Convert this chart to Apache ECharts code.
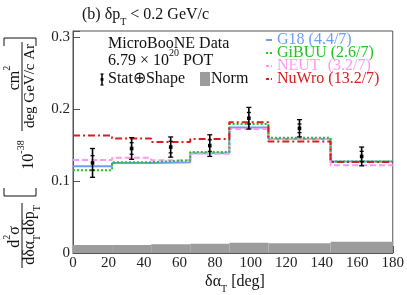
<!DOCTYPE html>
<html>
<head>
<meta charset="utf-8">
<script src="https://cdn.jsdelivr.net/npm/echarts@6/dist/echarts.min.js"></script>
<style>html,body{margin:0;padding:0;background:#fff}#c{width:407px;height:295px}</style>
</head>
<body>
<div id="c"></div>
<script>
const binEdges = [0, 22, 44, 66, 88, 110, 145, 180];
const dataValues = [0.125, 0.145, 0.147, 0.149, 0.187, 0.173, 0.134];
const dataErrors = [0.020, 0.015, 0.014, 0.015, 0.015, 0.012, 0.013];
const statErrors = [0.010, 0.008, 0.008, 0.008, 0.008, 0.006, 0.007];
const g18 = [0.1204, 0.125, 0.126, 0.1384, 0.174, 0.158, 0.1268];
const gibuu = [0.1148, 0.126, 0.1287, 0.140, 0.179, 0.160, 0.127];
const neut = [0.129, 0.132, 0.1287, 0.138, 0.172, 0.158, 0.1218];
const nuwro = [0.163, 0.159, 0.154, 0.158, 0.1815, 0.1546, 0.1264];
const normUnc = [0.0110, 0.0112, 0.0120, 0.0130, 0.0143, 0.0134, 0.0157];
const xTicks = [0, 20, 40, 60, 80, 100, 120, 140, 160, 180];
const yTicks = [0, 0.1, 0.2, 0.3];
const legendNames = ['G18 (4.4/7)', 'GiBUU (2.6/7)', 'NEUT  (3.2/7)', 'NuWro (13.2/7)'];

const C_G18 = '#6e9cf7', C_GIBUU = '#22c322', C_NEUT = '#ff99f0', C_NUWRO = '#d81e1e';
const FONT = 'Liberation Serif';

function steps(vals) {
  const pts = [];
  vals.forEach((v, i) => { pts.push([binEdges[i], v]); pts.push([binEdges[i + 1], v]); });
  return pts;
}
const centers = dataValues.map((v, i) => (binEdges[i] + binEdges[i + 1]) / 2);

const chart = echarts.init(document.getElementById('c'));
function lineSeries(name, vals, color, type) {
  return { name, type: 'line', data: steps(vals), symbol: 'none', animation: false,
    lineStyle: { color, width: 2, type }, z: 3 };
}
const txt = (o) => Object.assign({ type: 'text', silent: true }, o);

const sub = { fontSize: 10, verticalAlign: 'bottom', padding: [0, 0, -4, 0], fontFamily: FONT };
const sup = { fontSize: 10, verticalAlign: 'top', padding: [-5, 0, 0, 0], fontFamily: FONT };

const legendY = [40, 53, 66, 79];
const legendColors = [C_G18, C_GIBUU, C_NEUT, C_NUWRO];
const legendGraphics = [];
legendNames.forEach((n, i) => {
  legendGraphics.push({ type: 'line', silent: true, shape: { x1: 266, y1: legendY[i], x2: 272, y2: legendY[i] },
    style: { stroke: legendColors[i], lineWidth: 2, lineDash: i === 0 ? null : (i === 1 ? [2, 2] : [3, 2]) } });
  legendGraphics.push(txt({ x: 277, y: legendY[i], style: { text: n, fill: legendColors[i], font: '16px ' + FONT, textVerticalAlign: 'middle' } }));
});

const option = {
  animation: false,
  grid: { left: 73, right: 13, top: 31, bottom: 42, show: true, borderColor: '#555', borderWidth: 1, backgroundColor: 'transparent' },
  xAxis: { type: 'value', min: 0, max: 180, interval: 20,
    axisLine: { lineStyle: { color: '#555' } },
    axisTick: { inside: true, length: 7, lineStyle: { color: '#555' } },
    axisLabel: { fontFamily: FONT, fontSize: 15, color: '#222', margin: 3 },
    splitLine: { show: false } },
  yAxis: { type: 'value', min: 0, max: 0.308, interval: 0.1,
    axisLine: { show: true, lineStyle: { color: '#555' } },
    axisTick: { show: true, inside: true, length: 7, lineStyle: { color: '#555' } },
    axisLabel: { fontFamily: FONT, fontSize: 15, color: '#222', margin: 3,
      formatter: v => { const t = yTicks.find(y => Math.abs(y - v) < 1e-6); return t === undefined ? '' : (t === 0 ? '0' : t.toFixed(1)); } },
    splitLine: { show: false } },
  series: [
    { type: 'custom', animation: false, z: 1, data: normUnc.map((v, i) => [binEdges[i], binEdges[i + 1], v]),
      renderItem: (params, api) => {
        const p0 = api.coord([api.value(0), 0]);
        const p1 = api.coord([api.value(1), api.value(2)]);
        return { type: 'rect', shape: { x: p0[0], y: p1[1], width: p1[0] - p0[0], height: p0[1] - p1[1] },
          style: { fill: '#9c9c9c' } };
      } },
    lineSeries('G18', g18, C_G18, 'solid'),
    lineSeries('NEUT', neut, C_NEUT, [6, 3]),
    lineSeries('GiBUU', gibuu, C_GIBUU, [2, 2]),
    lineSeries('NuWro', nuwro, C_NUWRO, [7, 3, 2, 3]),
    { type: 'custom', animation: false, z: 5,
      data: dataValues.map((v, i) => [centers[i], v, dataErrors[i], statErrors[i]]),
      renderItem: (params, api) => {
        const x = api.value(0), v = api.value(1), e = api.value(2), s = api.value(3);
        const c = api.coord([x, v]);
        const top = api.coord([x, v + e])[1], bot = api.coord([x, v - e])[1];
        const st = api.coord([x, v + s])[1], sb = api.coord([x, v - s])[1];
        const st2 = { stroke: '#000', lineWidth: 1.3 };
        return { type: 'group', children: [
          { type: 'line', shape: { x1: c[0], y1: top, x2: c[0], y2: bot }, style: { stroke: '#000', lineWidth: 1.6 } },
          { type: 'line', shape: { x1: c[0] - 2.5, y1: top, x2: c[0] + 2.5, y2: top }, style: st2 },
          { type: 'line', shape: { x1: c[0] - 2.5, y1: bot, x2: c[0] + 2.5, y2: bot }, style: st2 },
          { type: 'line', shape: { x1: c[0] - 2, y1: st, x2: c[0] + 2, y2: st }, style: st2 },
          { type: 'line', shape: { x1: c[0] - 2, y1: sb, x2: c[0] + 2, y2: sb }, style: st2 },
          { type: 'rect', shape: { x: c[0] - 1.8, y: c[1] - 1.8, width: 3.6, height: 3.6 }, style: { fill: '#000' } }
        ] };
      } }
  ],
  graphic: [
    txt({ x: 82, y: 15, style: { text: '(b) δp{s|T} < 0.2 GeV/c', font: '16px ' + FONT, fill: '#111', textVerticalAlign: 'middle',
      rich: { s: sub } } }),
    txt({ x: 108, y: 44, style: { text: 'MicroBooNE Data', font: '16px ' + FONT, fill: '#111', textVerticalAlign: 'middle' } }),
    txt({ x: 108, y: 61, style: { text: '6.79 × 10{p|20} POT', font: '16px ' + FONT, fill: '#111', textVerticalAlign: 'middle', rich: { p: sup } } }),
    { type: 'line', silent: true, shape: { x1: 102, y1: 74, x2: 102, y2: 85 }, style: { stroke: '#000', lineWidth: 1.5 } },
    { type: 'line', silent: true, shape: { x1: 100.5, y1: 74, x2: 103.5, y2: 74 }, style: { stroke: '#000', lineWidth: 1.2 } },
    { type: 'line', silent: true, shape: { x1: 100.5, y1: 85, x2: 103.5, y2: 85 }, style: { stroke: '#000', lineWidth: 1.2 } },
    { type: 'rect', silent: true, shape: { x: 100.6, y: 78, width: 2.8, height: 2.8 }, style: { fill: '#000' } },
    txt({ x: 108, y: 79, style: { text: 'Stat⊕Shape', font: '16px ' + FONT, fill: '#111', textVerticalAlign: 'middle' } }),
    { type: 'rect', silent: true, shape: { x: 200, y: 72, width: 10, height: 14 }, style: { fill: '#9c9c9c' } },
    txt({ x: 211, y: 79, style: { text: 'Norm', font: '16px ' + FONT, fill: '#111', textVerticalAlign: 'middle' } }),
    ...legendGraphics,
    txt({ x: 235, y: 282, style: { text: 'δα{s|T} [deg]', font: '16px ' + FONT, fill: '#111', textAlign: 'center', textVerticalAlign: 'middle', rich: { s: sub } } }),
    // y-axis title (rotated)
    txt({ x: 15, y: 237, rotation: Math.PI / 2, style: { text: 'd{p|2}σ', font: '16px ' + FONT, fill: '#111', textAlign: 'center', textVerticalAlign: 'middle', rich: { p: sup } } }),
    { type: 'line', silent: true, shape: { x1: 22, y1: 203, x2: 22, y2: 268 }, style: { stroke: '#111', lineWidth: 1 } },
    txt({ x: 30, y: 235, rotation: Math.PI / 2, style: { text: 'dδα{s|T}dδp{s|T}', font: '16px ' + FONT, fill: '#111', textAlign: 'center', textVerticalAlign: 'middle', rich: { s: sub } } }),
    { type: 'polyline', silent: true, shape: { points: [[4, 188], [4, 196], [36, 196], [36, 188]] }, style: { stroke: '#111', lineWidth: 1, fill: null } },
    txt({ x: 29, y: 155, rotation: Math.PI / 2, style: { text: '10{p|-38}', font: '16px ' + FONT, fill: '#111', textAlign: 'center', textVerticalAlign: 'middle', rich: { p: sup } } }),
    txt({ x: 15, y: 78, rotation: Math.PI / 2, style: { text: 'cm{p|2}', font: '16px ' + FONT, fill: '#111', textAlign: 'center', textVerticalAlign: 'middle', rich: { p: sup } } }),
    { type: 'line', silent: true, shape: { x1: 22, y1: 42, x2: 22, y2: 131 }, style: { stroke: '#111', lineWidth: 1 } },
    txt({ x: 30, y: 86, rotation: Math.PI / 2, style: { text: 'deg GeV/c Ar', font: '15px ' + FONT, fill: '#111', textAlign: 'center', textVerticalAlign: 'middle' } }),
    { type: 'polyline', silent: true, shape: { points: [[4, 46], [4, 38], [36, 38], [36, 46]] }, style: { stroke: '#111', lineWidth: 1, fill: null } }
  ]
};
chart.setOption(option);
</script>
</body>
</html>
